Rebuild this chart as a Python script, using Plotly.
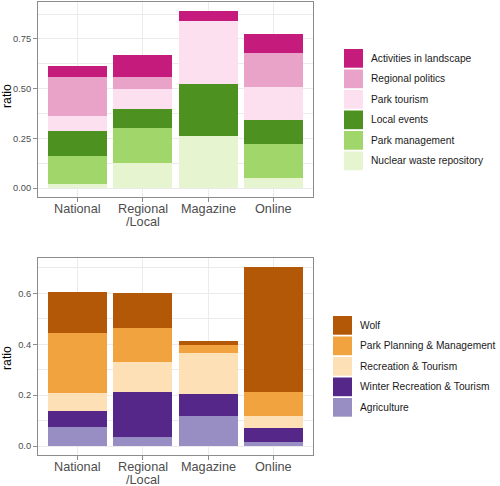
import plotly.graph_objects as go

categories = ["National", "Regional<br>/Local", "Magazine", "Online"]

# Top panel (stack order bottom -> top)
top_names = ["Nuclear waste repository", "Park management", "Local events",
             "Park tourism", "Regional politics", "Activities in landscape"]
top_colors = ["#e6f5d0", "#a1d76a", "#4d9221", "#fde0ef", "#e9a3c9", "#c51b7d"]
nuclear = [0.022, 0.128, 0.263, 0.050]
park_mgmt = [0.138, 0.172, 0.0, 0.173]
local_events = [0.125, 0.100, 0.260, 0.120]
park_tourism = [0.080, 0.097, 0.317, 0.164]
regional_politics = [0.193, 0.061, 0.0, 0.173]
activities = [0.055, 0.110, 0.052, 0.093]
top_values = [nuclear, park_mgmt, local_events, park_tourism, regional_politics, activities]

# Bottom panel (stack order bottom -> top)
bot_names = ["Agriculture", "Winter Recreation & Tourism", "Recreation & Tourism",
             "Park Planning & Management", "Wolf"]
bot_colors = ["#998ec3", "#542788", "#fee0b6", "#f1a340", "#b35806"]
agriculture = [0.075, 0.034, 0.117, 0.015]
winter_rec = [0.062, 0.177, 0.087, 0.056]
recreation = [0.070, 0.120, 0.163, 0.047]
park_planning = [0.239, 0.133, 0.029, 0.095]
wolf = [0.161, 0.137, 0.015, 0.491]
bot_values = [agriculture, winter_rec, recreation, park_planning, wolf]

FONT = "Liberation Sans"
W, H = 500, 486
ML, MR, MT, MB = 38, 187, 2, 31
PW = W - ML - MR
PH = H - MT - MB

def px_x(x):
    return (x - ML) / PW

def px_y(y):
    return 1 - (y - MT) / PH

TOP = (2, 197)
BOT = (258, 455)

fig = go.Figure()
for name, col, vals in zip(top_names, top_colors, top_values):
    fig.add_trace(go.Bar(x=categories, y=vals, name=name, marker_color=col,
                         marker_line_width=0, xaxis="x", yaxis="y", showlegend=False))
for name, col, vals in zip(bot_names, bot_colors, bot_values):
    fig.add_trace(go.Bar(x=categories, y=vals, name=name, marker_color=col,
                         marker_line_width=0, xaxis="x2", yaxis="y2", showlegend=False))

grid = "#ebebeb"
border = "#8c8c8c"
axis_common = dict(showline=True, linecolor=border, linewidth=1, mirror=True,
                   ticks="outside", ticklen=4, tickcolor=border, automargin=False,
                   gridcolor=grid, gridwidth=1, zeroline=False)
xcommon = dict(axis_common, showticklabels=False, range=[-0.6, 3.6])
ycommon = dict(axis_common, tickfont=dict(family=FONT, size=9.3, color="#4d4d4d"),
               minor=dict(showgrid=True, gridcolor=grid, gridwidth=0.6))

fig.update_layout(
    width=W, height=H, barmode="stack", bargap=0.1,
    plot_bgcolor="white", paper_bgcolor="white",
    margin=dict(l=ML, r=MR, t=MT, b=MB, autoexpand=False),
    xaxis=dict(xcommon, anchor="y", domain=[0, 1]),
    yaxis=dict(ycommon, anchor="x", domain=[px_y(TOP[1]), px_y(TOP[0])], range=[-0.0446, 0.936],
               tickvals=[0, 0.25, 0.5, 0.75], ticktext=["0.00", "0.25", "0.50", "0.75"],
               minor_tickvals=[0.125, 0.375, 0.625, 0.875]),
    xaxis2=dict(xcommon, anchor="y2", domain=[0, 1]),
    yaxis2=dict(ycommon, anchor="x2", domain=[px_y(BOT[1]), px_y(BOT[0])], range=[-0.0352, 0.739],
                tickvals=[0, 0.2, 0.4, 0.6], ticktext=["0.0", "0.2", "0.4", "0.6"],
                minor_tickvals=[0.1, 0.3, 0.5, 0.7]),
    font=dict(family=FONT),
)

shapes = []
annotations = []

# Category labels (one annotation per line, for ggplot-like line spacing)
for xref, (t, b) in (("x", TOP), ("x2", BOT)):
    for cat in categories:
        for i, line in enumerate(cat.split("<br>")):
            annotations.append(dict(xref=xref, yref="paper", x=cat, y=px_y(b + 12 + 13 * i),
                                    text=line, showarrow=False, xanchor="center", yanchor="middle",
                                    borderpad=0,
                                    font=dict(family=FONT, size=12.7, color="#4d4d4d")))
    # y-axis title
    annotations.append(dict(xref="paper", yref="paper", x=px_x(6.5), y=px_y((t + b) / 2 - 3 if t < 100 else (t + b) / 2 + 2),
                            text="ratio", textangle=-90, showarrow=False, borderpad=0,
                            xanchor="center", yanchor="middle",
                            font=dict(family=FONT, size=12.3, color="#000000")))

# Manual legends (ggplot-style large keys), top-to-bottom order = reversed stack
def add_legend(names, colors, key_x0, key_tops, text_x):
    for name, col, t in zip(names[::-1], colors[::-1], key_tops):
        shapes.append(dict(type="rect", xref="paper", yref="paper",
                           x0=px_x(key_x0), x1=px_x(key_x0 + 19),
                           y0=px_y(t + 18.7), y1=px_y(t),
                           fillcolor=col, line=dict(width=0), layer="above"))
        annotations.append(dict(xref="paper", yref="paper", x=px_x(text_x),
                                y=px_y(t + 9.35), text=name, showarrow=False, borderpad=0,
                                xanchor="left", yanchor="middle",
                                font=dict(size=10.2, color="#1a1a1a", family=FONT)))

add_legend(top_names, top_colors, 344, [49, 69.5, 90, 110.5, 131, 151.5], 370)
add_legend(bot_names, bot_colors, 333, [316, 336.5, 357, 377.5, 398], 359)
fig.update_layout(shapes=shapes, annotations=annotations)

fig.write_html("out.html", config={"displayModeBar": False},
               post_script="document.body.style.margin='0';document.body.style.overflow='hidden';")
